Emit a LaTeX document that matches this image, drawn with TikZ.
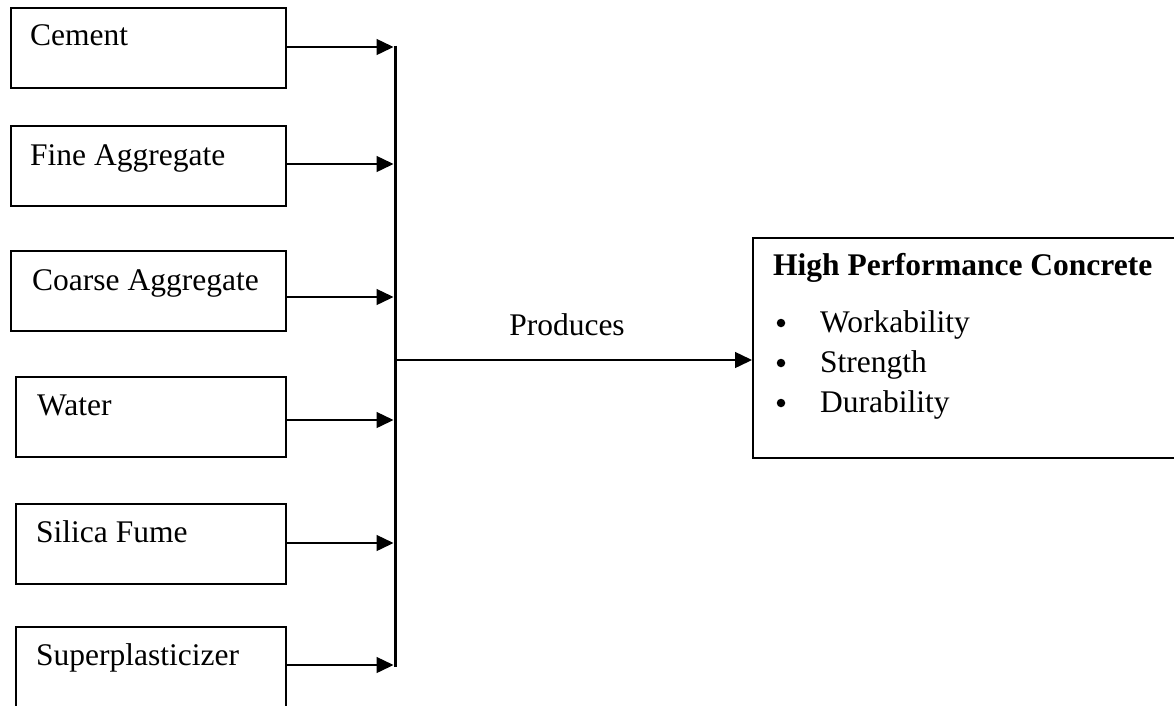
\documentclass[tikz,border=0pt]{standalone}
\usepackage{fontspec}
\setmainfont{Liberation Serif}
\usetikzlibrary{arrows.meta}
\begin{document}
\begin{tikzpicture}[x=1pt,y=-1pt,
  box/.style={draw, line width=1.6pt, minimum height=80pt, inner sep=0pt, anchor=north west},
  txt/.style={inner sep=0pt, anchor=base west, font=\fontsize{31.5}{38}\selectfont},
  bul/.style={circle, fill, inner sep=0pt, minimum size=8.5pt},
  arr/.style={line width=1.4pt, -{Triangle[length=17pt,width=16pt]}},
  bus/.style={line width=3pt},
]
\useasboundingbox (0,0) rectangle (1174,705);
\clip (0,0) rectangle (1174,705);
% input boxes
\node[box, minimum width=275pt] (cem) at (10,7) {};
\node[txt] (tcem) at (30,45) {Cement};
\node[box, minimum width=275pt] (fine) at (10,125) {};
\node[txt] (tfine) at (30,165) {Fine Aggregate};
\node[box, minimum width=275pt] (coarse) at (10,250) {};
\node[txt] (tcoarse) at (32,290) {Coarse Aggregate};
\node[box, minimum width=270pt] (water) at (15,376) {};
\node[txt] (twater) at (37,415) {Water};
\node[box, minimum width=270pt] (silica) at (15,503) {};
\node[txt] (tsilica) at (36,542) {Silica Fume};
\node[box, minimum width=270pt, minimum height=110pt] (super) at (15,626) {};
\node[txt] (tsuper) at (36,665) {Superplasticizer};
% bus
\coordinate (b1) at (393.5,47);
\coordinate (b2) at (393.5,164);
\coordinate (b3) at (393.5,297);
\coordinate (b4) at (393.5,420);
\coordinate (b5) at (393.5,543);
\coordinate (b6) at (393.5,665);
\coordinate (btop) at (395,45.5);
\coordinate (bbot) at (395,666.5);
\coordinate (bp) at (395,360);
\draw[bus] (btop) -- (bbot);
\draw[arr] (b1 -| cem.east) -- (b1);
\draw[arr] (b2 -| fine.east) -- (b2);
\draw[arr] (b3 -| coarse.east) -- (b3);
\draw[arr] (b4 -| water.east) -- (b4);
\draw[arr] (b5 -| silica.east) -- (b5);
\draw[arr] (b6 -| super.east) -- (b6);
% output box
\node[box, minimum width=460pt, minimum height=220pt] (hpc) at (752,237) {};
\node[txt, font=\fontsize{31.5}{38}\selectfont\bfseries] (thpc) at (773,275) {High Performance Concrete};
\node[bul] (bul1) at (781,323) {};
\node[txt] (w) at (820,332) {Workability};
\node[bul] (bul2) at (781,363) {};
\node[txt] (s) at (820,372) {Strength};
\node[bul] (bul3) at (781,403) {};
\node[txt] (d) at (820,412) {Durability};
\draw[arr] (bp) -- (bp -| hpc.west);
\node[txt, anchor=base] (prod) at (567,335) {Produces};
\end{tikzpicture}
\end{document}
